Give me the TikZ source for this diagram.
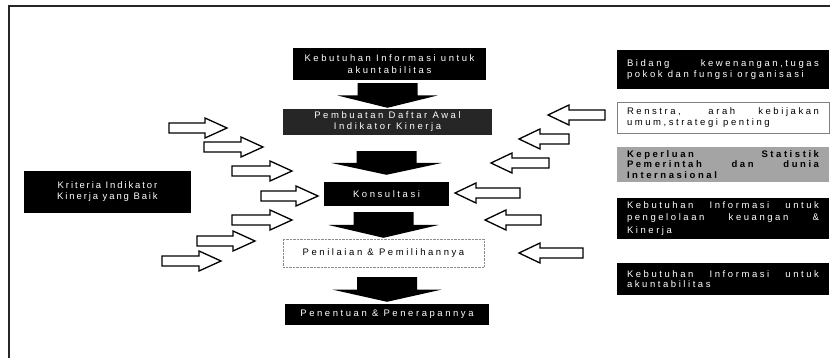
\documentclass[tikz,border=0pt]{standalone}
\usepackage{fontspec}
\setmainfont{Liberation Sans}
\newfontfamily\spaced[LetterSpace=27]{Liberation Sans}
\newfontfamily\spacedn[LetterSpace=20]{Liberation Sans}
\usetikzlibrary{calc}
\definecolor{pembgray}{HTML}{262626}
\definecolor{rgray}{HTML}{A4A4A4}
\newcommand\rarr[3]{\draw[hollow] ({#1},{#3-5}) -- ({#2-22},{#3-5}) -- ({#2-22},{#3-10}) -- ({#2},{#3}) -- ({#2-22},{#3+10}) -- ({#2-22},{#3+5}) -- ({#1},{#3+5}) -- cycle;}
\newcommand\larr[3]{\draw[hollow] ({#1},{#3-5}) -- ({#2+21},{#3-5}) -- ({#2+21},{#3-10}) -- ({#2},{#3}) -- ({#2+21},{#3+10}) -- ({#2+21},{#3+5}) -- ({#1},{#3+5}) -- cycle;}
\newcommand\bigarr[5]{%
  \coordinate (s) at ($(#1.south)+(0,#3)$);
  \coordinate (t) at ($(#2.north)+(0,-#4)$);
  \coordinate (m) at ($(s)!0.5!(t)$);
  \coordinate (st) at (s -| t);
  \coordinate (mt) at (m -| t);
  \fill[black] ($(st)+(-30,0)$) -- ($(st)+(30,0)$) -- ($(mt)+(30,0)$) -- ($(mt)+(#5,0)$) -- (t) -- ($(mt)+(-#5,0)$) -- ($(mt)+(-30,0)$) -- cycle;}
\begin{document}
\begin{tikzpicture}[x=1pt,y=-1pt,
  box/.style={inner sep=0pt,align=center,font=\spaced\fontsize{9.5}{12}\selectfont},
  dark/.style={box,fill=black,text=white},
  rbox/.style={inner xsep=10pt,inner ysep=0pt,text width=192pt,align=justify,minimum width=212pt,font=\spaced\fontsize{9.5}{10.5}\selectfont},
  hollow/.style={draw=black,fill=white,line width=1.3pt,line join=miter}]
\useasboundingbox (0,0) rectangle (830,358);
\draw[line width=1.6pt,black!85] (830,6) -- (9,6) -- (9,358);

\node[dark,minimum width=193pt,minimum height=32pt] (top) at (389.5,64) {Kebutuhan Informasi untuk\\akuntabilitas};
\node[box,fill=pembgray,text=white,minimum width=209pt,minimum height=26pt,font=\spaced\fontsize{9.5}{11}\selectfont] (pemb) at (387.5,122) {Pembuatan Daftar Awal\\Indikator Kinerja};
\node[dark,minimum width=125pt,minimum height=24pt] (kons) at (386.5,194) {Konsultasi};
\node[box,draw=black!45,densely dotted,fill=white,minimum width=201pt,minimum height=28pt] (penil) at (383.5,253) {Penilaian \& Pemilihannya};
\node[dark,minimum width=204pt,minimum height=21pt] (pen) at (387,314.5) {Penentuan \& Penerapannya};
\node[dark,font=\spacedn\fontsize{9.5}{11}\selectfont,minimum width=167pt,minimum height=42pt] (krit) at (107.5,192) {Kriteria Indikator\\Kinerja yang Baik};

\node[rbox,fill=black,text=white,minimum height=39pt] (r1) at (723,69.5) {Bidang kewenangan,tugas\linebreak pokok dan fungsi organisasi};
\node[rbox,draw=black!50,fill=white,minimum height=31pt] (r2) at (723,117.5) {Renstra, arah kebijakan\linebreak umum,strategi penting};
\node[rbox,fill=rgray,font=\spaced\bfseries\fontsize{9.5}{10.5}\selectfont,minimum height=35pt] (r3) at (723,164.5) {Keperluan Statistik\linebreak Pemerintah dan dunia\linebreak Internasional};
\node[rbox,fill=black,text=white,font=\spaced\fontsize{9.5}{12.5}\selectfont,minimum height=41pt] (r4) at (723,218.5) {Kebutuhan Informasi untuk\linebreak pengelolaan keuangan \&\linebreak Kinerja};
\node[rbox,fill=black,text=white,minimum height=32pt] (r5) at (723,279) {Kebutuhan Informasi untuk\linebreak akuntabilitas};

\bigarr{top}{pemb}{3}{1}{50}
\bigarr{pemb}{kons}{16}{7}{55}
\bigarr{kons}{penil}{6}{1}{55}
\bigarr{penil}{pen}{10}{2}{55}

\rarr{169}{227}{128}
\rarr{204}{263}{147}
\rarr{232}{292}{171}
\rarr{261}{318}{196}
\rarr{232}{292}{220}
\rarr{197}{255}{241}
\rarr{162}{221}{261}

\larr{605}{548}{115}
\larr{569}{519}{139}
\larr{549}{491}{163}
\larr{520}{455}{193}
\larr{541}{485}{220}
\larr{583}{519}{253}
\end{tikzpicture}
\end{document}
